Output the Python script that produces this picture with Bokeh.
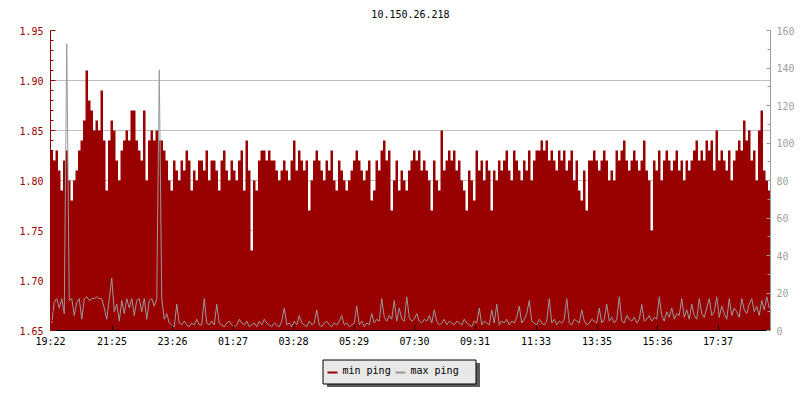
from bokeh.plotting import figure
from bokeh.layouts import column
from bokeh.models import (Range1d, LinearAxis, FixedTicker, PrintfTickFormatter)
from bokeh.core.properties import value
from bokeh.embed import file_html
from bokeh.resources import INLINE

# ---------------- data ----------------
title_text = "10.150.26.218"
start_label = "19:22"
tick_labels = ["19:22", "21:25", "23:26", "01:27", "03:28", "05:29",
               "07:30", "09:31", "11:33", "13:35", "15:36", "17:37"]
legend_labels = ["min ping", "max ping"]
sample_minutes = 5
left_ticks = [1.65, 1.70, 1.75, 1.80, 1.85, 1.90, 1.95]
left_minor = [1.66, 1.67, 1.68, 1.69, 1.71, 1.72, 1.73, 1.74, 1.76, 1.77, 1.78, 1.79,
              1.81, 1.82, 1.83, 1.84, 1.86, 1.87, 1.88, 1.89, 1.91, 1.92, 1.93, 1.94]
right_ticks = [0, 20, 40, 60, 80, 100, 120, 140, 160]
right_minor = [10, 30, 50, 70, 90, 110, 130, 150]

# min ping in hundredths of ms (1.83 ms -> 183)
min_ping_hundredths = [
    183, 182, 183, 181, 179, 182, 183, 180, 178, 180, 181, 183, 184, 186, 191, 188, 187, 185, 186, 185,
    189, 184, 179, 184, 186, 185, 182, 180, 183, 184, 185, 184, 187, 187, 184, 183, 182, 187, 180, 184,
    185, 184, 185, 184, 184, 183, 182, 180, 179, 182, 181, 180, 182, 181, 183, 182, 179, 181, 180, 182,
    182, 181, 183, 180, 182, 182, 181, 179, 182, 183, 181, 180, 182, 181, 180, 182, 183, 179, 184, 181,
    173, 180, 179, 182, 183, 183, 182, 183, 182, 182, 181, 180, 181, 182, 181, 180, 182, 184, 181, 183,
    182, 181, 182, 177, 180, 182, 183, 182, 181, 180, 182, 181, 183, 180, 179, 182, 181, 180, 179, 180,
    181, 182, 183, 182, 181, 180, 181, 182, 178, 179, 182, 181, 183, 184, 182, 183, 177, 180, 182, 179,
    181, 180, 179, 181, 182, 183, 182, 183, 181, 182, 181, 180, 177, 182, 180, 179, 185, 181, 182, 183,
    182, 183, 181, 182, 180, 179, 177, 181, 180, 178, 183, 181, 182, 180, 182, 181, 177, 181, 180, 182,
    181, 182, 183, 181, 180, 183, 182, 181, 180, 182, 181, 183, 180, 182, 183, 183, 184, 183, 184, 182,
    183, 182, 181, 183, 182, 183, 181, 182, 183, 180, 182, 179, 178, 181, 177, 182, 182, 183, 182, 181,
    182, 183, 182, 180, 181, 180, 183, 182, 183, 184, 182, 181, 182, 183, 182, 181, 182, 184, 181, 180,
    175, 182, 181, 183, 180, 182, 183, 182, 181, 182, 183, 181, 182, 180, 182, 181, 182, 183, 184, 182,
    183, 182, 184, 183, 184, 181, 185, 182, 183, 182, 181, 183, 180, 182, 183, 184, 183, 186, 184, 185,
    182, 183, 180, 185, 187, 181, 180, 179,
]

# max ping in ms
max_ping = [
    4, 15, 17, 12, 17, 9, 153, 16, 17, 8, 15, 17, 6, 17, 18, 16, 17, 17, 18, 17,
    17, 12, 6, 17, 28, 10, 14, 5, 16, 9, 17, 12, 17, 8, 16, 17, 10, 17, 6, 16,
    17, 13, 17, 139, 17, 6, 9, 4, 3, 2, 14, 4, 3, 5, 3, 2, 4, 3, 6, 3,
    3, 17, 4, 3, 5, 3, 14, 4, 3, 2, 4, 5, 3, 2, 3, 6, 4, 3, 5, 2,
    3, 4, 2, 5, 3, 6, 4, 3, 2, 4, 3, 2, 5, 12, 3, 4, 2, 5, 3, 8,
    4, 3, 2, 5, 3, 4, 11, 3, 2, 4, 5, 3, 2, 4, 3, 5, 8, 3, 4, 2,
    3, 4, 13, 3, 5, 2, 4, 3, 9, 4, 6, 5, 17, 7, 5, 8, 6, 16, 5, 12,
    6, 5, 18, 7, 5, 6, 9, 5, 4, 6, 5, 8, 4, 11, 5, 3, 4, 6, 3, 5,
    4, 3, 5, 4, 3, 6, 4, 3, 2, 5, 4, 12, 3, 5, 4, 3, 11, 4, 14, 3,
    5, 4, 6, 3, 5, 4, 7, 13, 4, 6, 9, 16, 5, 4, 3, 6, 4, 3, 5, 17,
    4, 6, 3, 5, 4, 6, 17, 4, 3, 6, 5, 4, 11, 5, 3, 4, 6, 5, 4, 12,
    4, 6, 14, 5, 7, 4, 6, 18, 5, 4, 8, 6, 5, 7, 4, 6, 14, 5, 6, 8,
    5, 7, 6, 18, 8, 5, 10, 7, 12, 6, 9, 8, 17, 7, 11, 6, 14, 8, 6, 17,
    9, 7, 12, 17, 8, 10, 18, 7, 13, 9, 6, 17, 8, 12, 10, 7, 17, 11, 9, 14,
    17, 10, 13, 8, 16, 11, 18, 12,
]

# ---------------- derived ----------------
def minutes_after_start(label):
    h, m = map(int, label.split(":"))
    sh, sm = map(int, start_label.split(":"))
    return (h * 60 + m - (sh * 60 + sm)) % 1440

tick_pos = [minutes_after_start(t) for t in tick_labels]
n = len(min_ping_hundredths)
x_edges = [i * sample_minutes for i in range(n + 1)]
x_mid = [i * sample_minutes + sample_minutes / 2 for i in range(n)]
y_min = [v / 100 for v in min_ping_hundredths] + [min_ping_hundredths[-1] / 100]

FONT = "DejaVu Sans Mono"
RED = "#990000"
GRAY = "#999999"
FS = "10px"

# layout in page pixels
L, R, FW = 50, 30, 720          # left border, right border, frame width
TITLE_H = 22
TOP_PAD, FH, BOT = 8, 300, 20    # main figure: top pad, frame height, bottom border
LEG_H = 400 - TITLE_H - TOP_PAD - FH - BOT


def strip(height, y_top):
    f = figure(frame_width=FW, frame_height=height, min_border_left=L, min_border_right=R,
               min_border_top=0, min_border_bottom=0,
               x_range=Range1d(L, L + FW), y_range=Range1d(y_top + height, y_top),
               output_backend="svg", toolbar_location=None)
    f.axis.visible = False
    f.grid.grid_line_color = None
    f.outline_line_color = None
    f.background_fill_color = "white"
    f.border_fill_color = "white"
    return f


# ---------------- title strip ----------------
t = strip(TITLE_H, 0)
t.text(x=[L + FW / 2], y=[13], text=[title_text], text_font=value(FONT), text_font_size=FS,
       text_align="center", text_baseline="alphabetic", text_color="black")

# ---------------- main chart ----------------
p = figure(frame_width=FW, frame_height=FH,
           min_border_left=L, min_border_right=R, min_border_top=TOP_PAD, min_border_bottom=BOT,
           x_range=Range1d(0, n * sample_minutes), y_range=Range1d(left_ticks[0], left_ticks[-1]),
           output_backend="svg", toolbar_location=None)
p.extra_y_ranges = {"max": Range1d(right_ticks[0], right_ticks[-1])}
p.outline_line_color = None
p.background_fill_color = "white"
p.border_fill_color = "white"

p.xgrid.grid_line_color = None
p.ygrid.ticker = FixedTicker(ticks=left_ticks)
p.ygrid.grid_line_color = "#c0c0c0"
p.ygrid.grid_line_width = 1

p.varea_step(x=x_edges, y1=left_ticks[0], y2=y_min, step_mode="after", fill_color=RED, fill_alpha=1)
p.line(x_mid, max_ping, y_range_name="max", line_color=GRAY, line_width=1)

ya = p.yaxis[0]
ya.ticker = FixedTicker(ticks=left_ticks, minor_ticks=left_minor)
ya.formatter = PrintfTickFormatter(format="%.2f")
ya.axis_line_color = RED
ya.major_tick_line_color = RED
ya.minor_tick_line_color = RED
ya.major_tick_in = 5
ya.major_tick_out = 0
ya.minor_tick_in = 3
ya.minor_tick_out = 0
ya.major_label_text_color = RED
ya.major_label_text_font = FONT
ya.major_label_text_font_size = FS
ya.major_label_standoff = 7

xa = p.xaxis[0]
xa.ticker = FixedTicker(ticks=tick_pos)
xa.major_label_overrides = {pos: lab for pos, lab in zip(tick_pos, tick_labels)}
xa.axis_line_color = "black"
xa.major_tick_line_color = "black"
xa.minor_tick_line_color = None
xa.major_tick_in = 5
xa.major_tick_out = 0
xa.major_label_text_color = "black"
xa.major_label_text_font = FONT
xa.major_label_text_font_size = FS
xa.major_label_standoff = 5

ra = LinearAxis(y_range_name="max", ticker=FixedTicker(ticks=right_ticks, minor_ticks=right_minor))
ra.axis_line_color = GRAY
ra.major_tick_line_color = GRAY
ra.minor_tick_line_color = GRAY
ra.major_tick_in = 4
ra.major_tick_out = 0
ra.minor_tick_in = 3
ra.minor_tick_out = 0
ra.major_label_text_color = "#a0a0a0"
ra.major_label_text_font = FONT
ra.major_label_text_font_size = FS
ra.major_label_standoff = 6
p.add_layout(ra, "right")

# ---------------- legend strip (page-pixel coordinates) ----------------
lg = strip(LEG_H, 400 - LEG_H)
box_l, box_r, box_t, box_b = 322.5, 475.5, 359.5, 383.5
lg.quad(left=box_l + 4, right=box_r + 4, top=box_t + 3, bottom=box_b + 3,
        fill_color="#5c5c5c", line_color=None)
lg.quad(left=box_l, right=box_r, top=box_t, bottom=box_b,
        fill_color="#e8e8e8", line_color="black", line_width=1)
sample_x = [327, 395]
sample_colors = [RED, GRAY]
for sx, col, lab in zip(sample_x, sample_colors, legend_labels):
    lg.segment(x0=sx, y0=372, x1=sx + 10, y1=372, line_color=col, line_width=2)
    lg.text(x=[sx + 15], y=[369.5], text=[lab], text_font=value(FONT), text_font_size=FS,
            text_baseline="alphabetic", text_align="left", text_color="black")

open("out.html", "w").write(file_html(column(t, p, lg, spacing=0), INLINE))
